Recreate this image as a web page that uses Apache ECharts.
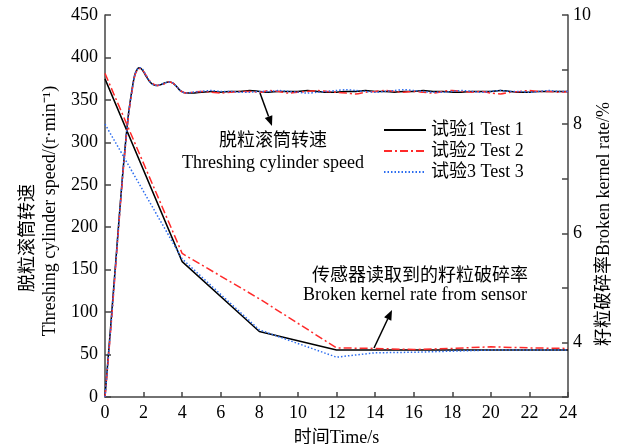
<!DOCTYPE html>
<html>
<head>
<meta charset="utf-8">
<script src="https://cdn.jsdelivr.net/npm/echarts@6/dist/echarts.min.js"></script>
<style>
  html, body { margin: 0; padding: 0; background: #fff; }
  #chart { width: 622px; height: 444px; }
</style>
</head>
<body>
<div id="chart"></div>
<script>
// 时间轴 (s) for speed curves
var speedTime = [0, 0.3, 0.6, 0.9, 1.2, 1.4, 1.55, 1.7, 1.8, 1.95, 2.1, 2.3, 2.5, 2.7, 2.9, 3.1, 3.3, 3.5, 3.7, 3.9, 4.2, 4.5,
    5, 5.5, 6, 6.5, 7, 7.5, 8, 8.5, 9, 9.5, 10, 10.5, 11, 11.5, 12, 12.5, 13, 13.5, 14, 14.5,
    15, 15.5, 16, 16.5, 17, 17.5, 18, 18.5, 19, 19.5, 20, 20.5, 21, 21.5, 22, 22.5, 23, 23.5, 24];
var speed1 = [0, 85, 172, 258, 330, 362, 380, 387, 388, 385, 379, 372, 368, 367, 368, 370, 371, 370, 366, 361, 358, 358,
    359, 360, 359, 360, 360, 361, 360, 359, 360, 360, 360, 361, 360, 359, 359, 360, 360, 361,
    360, 360, 359, 360, 360, 361, 360, 360, 359, 359, 360, 360, 360, 361, 360, 359, 359, 360, 360, 360, 360];
var speed2 = [0, 80, 168, 255, 328, 360, 379, 386, 387, 385, 380, 373, 369, 367, 368, 369, 371, 370, 366, 361, 358, 359,
    360, 359, 358, 359, 360, 360, 359, 361, 360, 358, 359, 360, 361, 360, 359, 358, 357, 359,
    360, 361, 360, 359, 360, 359, 358, 360, 361, 360, 359, 360, 358, 357, 359, 360, 361, 360, 360, 359, 360];
var speed3 = [0, 82, 170, 257, 329, 361, 380, 387, 388, 386, 380, 372, 368, 367, 368, 370, 371, 370, 366, 361, 358, 359,
    360, 361, 360, 360, 359, 359, 360, 360, 361, 360, 359, 358, 359, 360, 361, 362, 361, 360,
    359, 360, 361, 362, 361, 360, 359, 359, 360, 361, 360, 359, 360, 361, 360, 360, 359, 360, 361, 360, 360];

// 籽粒破碎率 (%)
var rateTime = [0, 4, 8, 12, 14, 16, 18, 20, 22, 24];
var rate1 = [8.83, 5.48, 4.2, 3.86, 3.86, 3.86, 3.86, 3.86, 3.86, 3.86];
var rate2 = [8.93, 5.63, 4.8, 3.9, 3.89, 3.87, 3.89, 3.92, 3.9, 3.89];
var rate3 = [8.0, 5.53, 4.23, 3.73, 3.81, 3.82, 3.84, 3.86, 3.86, 3.86];

var names = ['试验1 Test 1', '试验2 Test 2', '试验3 Test 3'];
var colors = ['#000000', '#ff2a2a', '#2b6cf0'];
var dashes = ['solid', [8, 3, 2, 3], [1.5, 2]];

function pairs(xs, ys) {
    var out = [];
    for (var i = 0; i < xs.length; i++) out.push([xs[i], ys[i]]);
    return out;
}

var FONT = "'Liberation Serif', 'Times New Roman', 'Noto Sans CJK SC', serif";
var axisCol = '#444';

var series = [];
var sp = [speed1, speed2, speed3];
var rt = [rate1, rate2, rate3];
for (var i = 0; i < 3; i++) {
    series.push({
        name: names[i], type: 'line', yAxisIndex: 0, symbol: 'none',
        data: pairs(speedTime, sp[i]),
        smooth: 0.3,
        lineStyle: { color: colors[i], width: 1.5, type: dashes[i] },
        itemStyle: { color: colors[i] },
        z: 2 + i
    });
}
for (var i = 0; i < 3; i++) {
    series.push({
        name: names[i], type: 'line', yAxisIndex: 1, symbol: 'none',
        data: pairs(rateTime, rt[i]),
        lineStyle: { color: colors[i], width: 1.5, type: dashes[i] },
        itemStyle: { color: colors[i] },
        z: 2 + i
    });
}

function arrow(x1, y1, x2, y2) {
    var a = Math.atan2(y2 - y1, x2 - x1), L = 10, W = 4;
    var bx = x2 - L * Math.cos(a), by = y2 - L * Math.sin(a);
    return [{
        type: 'line', shape: { x1: x1, y1: y1, x2: bx, y2: by },
        style: { stroke: '#000', lineWidth: 1.5 }
    }, {
        type: 'polygon',
        shape: { points: [[x2, y2], [bx + W * Math.sin(a), by - W * Math.cos(a)], [bx - W * Math.sin(a), by + W * Math.cos(a)]] },
        style: { fill: '#000' }
    }];
}

function label(txt, x, y, rot) {
    return {
        type: 'text', x: x, y: y, rotation: rot || 0,
        style: { text: txt, font: '18px ' + FONT, fill: '#000', textAlign: 'center', textVerticalAlign: 'middle', align: 'center', verticalAlign: 'middle' }
    };
}

var graphics = [].concat(
    arrow(260, 93, 272, 126),
    arrow(374, 348, 392, 310),
    [
        label('脱粒滚筒转速', 273, 141),
        label('Threshing cylinder speed', 273, 163),
        label('传感器读取到的籽粒破碎率', 420, 276),
        label('Broken kernel rate from sensor', 415, 295),
        label('脱粒滚筒转速', 28, 238, Math.PI / 2),
        label('Threshing cylinder speed/(r·min⁻¹)', 50, 211, Math.PI / 2),
        label('籽粒破碎率Broken kernel rate/%', 604, 224, Math.PI / 2)
    ]
);

var chart = echarts.init(document.getElementById('chart'));
chart.setOption({
    animation: false,
    backgroundColor: '#fff',
    grid: { left: 105, right: 54, top: 15, bottom: 47, outerBoundsMode: 'none', containLabel: false },
    legend: {
        data: names, orient: 'vertical', left: 378, top: 116,
        itemWidth: 42, itemHeight: 10, itemGap: 3,
        itemStyle: { opacity: 0 },
        textStyle: { fontFamily: FONT, fontSize: 18, color: '#000' }
    },
    xAxis: {
        type: 'value', min: 0, max: 24, interval: 2,
        name: '时间Time/s', nameLocation: 'middle', nameGap: 32,
        nameTextStyle: { fontFamily: FONT, fontSize: 18, color: '#000' },
        axisLine: { lineStyle: { color: axisCol, width: 1.5 } },
        axisTick: { inside: true, length: 5, lineStyle: { color: axisCol, width: 1.5 } },
        axisLabel: { fontFamily: FONT, fontSize: 18, color: '#000', margin: 7 },
        splitLine: { show: false }
    },
    yAxis: [{
        type: 'value', min: 0, max: 450, interval: 50,
        axisLine: { show: true, lineStyle: { color: axisCol, width: 1.5 } },
        axisTick: { show: true, inside: true, length: 6, lineStyle: { color: axisCol, width: 1.5 } },
        axisLabel: { fontFamily: FONT, fontSize: 18, color: '#000', margin: 7 },
        splitLine: { show: false }
    }, {
        type: 'value', min: 3, max: 10, interval: 1, position: 'right',
        axisLine: { show: true, lineStyle: { color: axisCol, width: 1.5 } },
        axisTick: { show: true, inside: true, length: 6, lineStyle: { color: axisCol, width: 1.5 } },
        axisLabel: {
            fontFamily: FONT, fontSize: 18, color: '#000', margin: 5,
            formatter: function (v) { return (v % 2 === 0) ? String(v) : ''; }
        },
        splitLine: { show: false }
    }],
    series: series,
    graphic: { elements: graphics }
});
</script>
</body>
</html>
